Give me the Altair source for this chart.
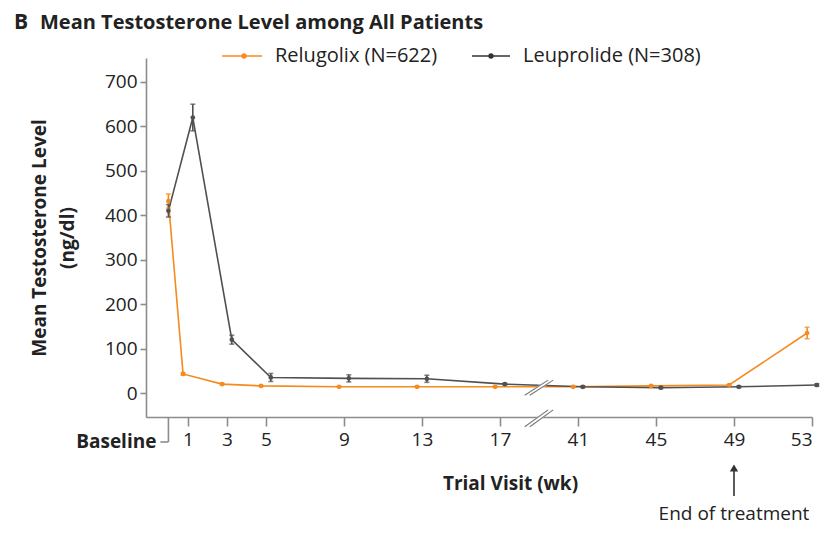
import altair as alt
import pandas as pd

# ---- data ----
weeks = [0, 1, 3, 5, 9, 13, 17, 41, 45, 49, 53]
relugolix_mean = [432, 43, 20, 16, 14, 14, 14, 14, 16, 18, 135]
relugolix_err = [16, 3, 2, 1, 1, 1, 1, 1, 1, 1, 13]
leuprolide_mean = [410, 620, 120, 35, 33, 32, 20, 14, 12, 14, 18]
leuprolide_err = [14, 30, 10, 9, 8, 8, 2, 2, 2, 2, 3]
series = ["Relugolix (N=622)", "Leuprolide (N=308)"]
colors = ["#F58A1F", "#505050"]
y_ticks = [0, 100, 200, 300, 400, 500, 600, 700]
gap_weeks = 20          # weeks cut out of the axis between 17 and 41
end_of_treatment_week = 49

FONT = "Open Sans"
TXT = "#222222"
AXC = "#8c8c8c"


def axis_pos(w):
    return w if w <= 17 else w - gap_weeks


rows = []
for name, means, errs in [(series[0], relugolix_mean, relugolix_err),
                          (series[1], leuprolide_mean, leuprolide_err)]:
    for w, m, e in zip(weeks, means, errs):
        rows.append({"series": name, "week": w, "pos": axis_pos(w),
                     "mean": m, "lo": m - e, "hi": m + e})
df = pd.DataFrame(rows)

tick_pos = [axis_pos(w) for w in weeks if w > 0]
xscale = alt.Scale(domain=[-1.15, axis_pos(53)], nice=False, zero=False)
yscale = alt.Scale(domain=[-54, 754], nice=False, zero=False)
cscale = alt.Scale(domain=series, range=colors)

x_axis = alt.Axis(values=tick_pos,
                  labelExpr=f"'' + (datum.value > 19 ? datum.value + {gap_weeks} : datum.value)",
                  title="Trial Visit (wk)", grid=False,
                  domainColor=AXC, domainWidth=1.6, tickColor=AXC, tickWidth=1.6,
                  tickSize=9, labelFontSize=19, labelFont=FONT, labelColor=TXT,
                  labelPadding=4, titleFont=FONT, titleFontSize=19, titleFontWeight="bold",
                  titleColor=TXT, titleX=364, titleY=66, titleBaseline="middle",
                  titleAlign="center")
y_axis = alt.Axis(values=y_ticks, title=["Mean Testosterone Level", "(ng/dl)"], grid=False,
                  domainColor=AXC, domainWidth=1.6, tickColor=AXC, tickWidth=1.6,
                  tickSize=6, labelFontSize=19, labelFont=FONT, labelColor=TXT,
                  labelPadding=3, titleFont=FONT, titleFontSize=19, titleFontWeight="bold",
                  titleColor=TXT, titleLineHeight=28, titleX=-107, titleY=179.5,
                  titleAngle=270, titleAlign="center", titleBaseline="middle")


def X(field):
    return alt.X(field, scale=xscale, axis=x_axis)


def Y(field):
    return alt.Y(field, scale=yscale, axis=y_axis)


def XD(v):
    return alt.datum(v, scale=xscale, axis=x_axis)


COLOR = alt.Color("series:N", scale=cscale, legend=None)

base = alt.Chart(df).transform_calculate(
    xpos=f"datum.pos + (datum.week == 0 ? 0 : (datum.series == '{series[0]}' ? -0.25 : 0.25))"
)

lines = base.mark_line(strokeWidth=1.6).encode(
    x=X("xpos:Q"), y=Y("mean:Q"), color=COLOR, order="week:Q")
err = base.mark_rule(strokeWidth=1.6).encode(
    x=X("xpos:Q"), y=Y("lo:Q"), y2="hi:Q", color=COLOR)
cap_lo = base.mark_tick(size=5, thickness=1.6, orient="horizontal").encode(
    x=X("xpos:Q"), y=Y("lo:Q"), color=COLOR)
cap_hi = base.mark_tick(size=5, thickness=1.6, orient="horizontal").encode(
    x=X("xpos:Q"), y=Y("hi:Q"), color=COLOR)
points = base.mark_point(filled=True, size=22, opacity=1).encode(
    x=X("xpos:Q"), y=Y("mean:Q"), color=COLOR)

# ---- axis-break marks "//" on the data lines and on the x axis ----
bp = (axis_pos(17) + axis_pos(41)) / 2
brk = pd.DataFrame([
    {"x": bp - 0.6, "x2": bp + 0.6, "y": -5, "y2": 29},
    {"x": bp - 0.6, "x2": bp + 0.6, "y": -76, "y2": -38},
])
brk_white = alt.Chart(brk).mark_rule(color="white", strokeWidth=4).encode(
    x=X("x:Q"), x2="x2:Q", y=Y("y:Q"), y2="y2:Q")
brk_a = alt.Chart(brk).transform_calculate(xa="datum.x - 0.13", xb="datum.x2 - 0.13").mark_rule(
    color="#777777", strokeWidth=1.1).encode(
    x=X("xa:Q"), x2="xb:Q", y=Y("y:Q"), y2="y2:Q")
brk_b = alt.Chart(brk).transform_calculate(xa="datum.x + 0.13", xb="datum.x2 + 0.13").mark_rule(
    color="#777777", strokeWidth=1.1).encode(
    x=X("xa:Q"), x2="xb:Q", y=Y("y:Q"), y2="y2:Q")

one = pd.DataFrame({"k": [0]})

# ---- Baseline bracket tick and label ----
bl_v = alt.Chart(one).mark_rule(color=AXC, strokeWidth=1.6).encode(
    x=XD(0), y=alt.value(359), y2=alt.value(384))
bl_h = alt.Chart(one).mark_rule(color=AXC, strokeWidth=1.6).encode(
    x=XD(0), x2=alt.datum(-0.41), y=alt.value(384))
bl_t = alt.Chart(one).mark_text(font=FONT, fontSize=19, fontWeight="bold", color=TXT,
                                align="right", baseline="middle", dx=-4).encode(
    x=XD(-0.41), y=alt.value(384), text=alt.value("Baseline"))

# ---- End of treatment annotation ----
eot_x = axis_pos(end_of_treatment_week)
eot_shaft = alt.Chart(one).mark_rule(color="#333333", strokeWidth=1.6).encode(
    x=XD(eot_x), y=alt.value(412), y2=alt.value(438))
eot_head = alt.Chart(one).mark_point(shape="triangle-up", filled=True, size=70,
                                     color="#333333", opacity=1).encode(
    x=XD(eot_x), y=alt.value(410))
eot_text = alt.Chart(one).mark_text(font=FONT, fontSize=19, color=TXT, align="center",
                                    baseline="middle").encode(
    x=XD(eot_x), y=alt.value(456), text=alt.value("End of treatment"))

# ---- manual legend ----
leg = []
for name, col, x0, x1, xd, xt in [(series[0], colors[0], 76, 116, 98, 129),
                                  (series[1], "#333333", 326, 364, 345, 377)]:
    leg.append(alt.Chart(one).mark_rule(color=col, strokeWidth=1.6).encode(
        x=alt.value(x0), x2=alt.value(x1), y=alt.value(-2)))
    leg.append(alt.Chart(one).mark_point(filled=True, size=28, color=col, opacity=1).encode(
        x=alt.value(xd), y=alt.value(-2)))
    leg.append(alt.Chart(one).mark_text(font=FONT, fontSize=20, color=TXT, align="left",
                                        baseline="middle").encode(
        x=alt.value(xt), y=alt.value(-2), text=alt.value(name)))

# ---- panel title ----
t_b = alt.Chart(one).mark_text(font=FONT, fontSize=21, fontWeight="bold", color=TXT,
                               align="left", baseline="middle").encode(
    x=alt.value(-132), y=alt.value(-35), text=alt.value("B"))
t_m = alt.Chart(one).mark_text(font=FONT, fontSize=20, fontWeight="bold", color=TXT,
                               align="left", baseline="middle").encode(
    x=alt.value(-106), y=alt.value(-35), text=alt.value("Mean Testosterone Level among All Patients"))

chart = alt.layer(
    lines, err, cap_lo, cap_hi, points,
    brk_white, brk_a, brk_b,
    bl_v, bl_h, bl_t, eot_shaft, eot_head, eot_text,
    *leg, t_b, t_m,
).properties(
    width=666, height=359,
    autosize=alt.AutoSizeParams(type="none"),
    padding={"left": 138, "top": 50, "right": 12, "bottom": 120},
    background="white",
).configure_view(stroke=None)

chart.save("out.html", embed_options={"renderer": "svg", "actions": False})
